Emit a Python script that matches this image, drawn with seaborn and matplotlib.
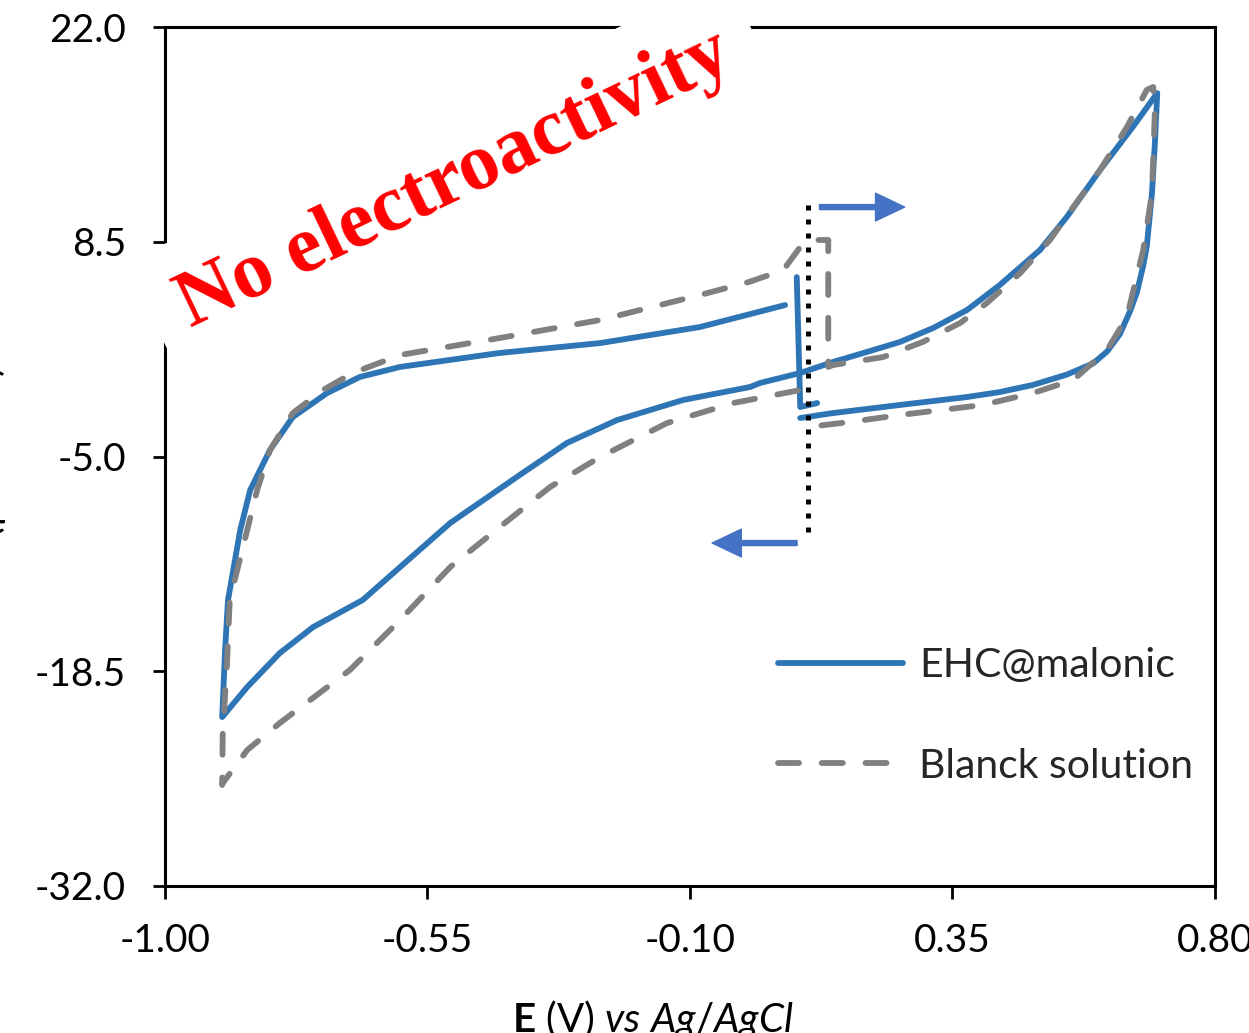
import numpy as np
import pandas as pd
import matplotlib
matplotlib.use("Agg")
import matplotlib.pyplot as plt
import seaborn as sns

# ---------------- data (E in V vs Ag/AgCl, I in uA cm-2) ----------------
# EHC@malonic : start transient
ehc_start_E = [0.083, 0.089, 0.118]
ehc_start_I = [6.28, -1.89, -1.64]

# EHC@malonic : main loop (lower-right -> vertex -> upper-right -> lower-left -> vertex -> upper-left)
ehc_lr_E = [0.089, 0.145, 0.260, 0.375, 0.431, 0.488, 0.546, 0.591, 0.615, 0.637, 0.654, 0.666, 0.677, 0.683, 0.692, 0.697, 0.701]
ehc_lr_I = [-2.58, -2.27, -1.76, -1.26, -0.95, -0.50, 0.15, 0.85, 1.60, 2.70, 4.10, 5.30, 7.00, 8.20, 11.56, 14.71, 17.85]
ehc_ur_E = [0.659, 0.603, 0.546, 0.500, 0.431, 0.375, 0.317, 0.260, 0.203, 0.145, 0.089]
ehc_ur_I = [15.71, 13.01, 10.06, 7.98, 5.78, 4.21, 3.08, 2.20, 1.57, 0.94, 0.25]
ehc_ll_E = [0.020, 0.003, -0.112, -0.225, -0.311, -0.397, -0.511, -0.597, -0.661, -0.746, -0.803, -0.859, -0.902]
ehc_ll_I = [-0.38, -0.63, -1.45, -2.71, -4.15, -6.29, -9.18, -11.95, -14.02, -15.72, -17.35, -19.49, -21.38]
ehc_ul_E = [-0.897, -0.892, -0.880, -0.871, -0.854, -0.820, -0.781, -0.722, -0.666, -0.597, -0.426, -0.254, -0.083, 0.063]
ehc_ul_I = [-17.17, -14.02, -11.51, -9.62, -7.11, -4.59, -2.52, -1.01, 0.00, 0.63, 1.51, 2.13, 3.14, 4.52]

# Blanck solution : loop (lower-left -> vertex -> upper-left -> start step -> upper-right -> vertex -> lower-right)
bl_ll_E = [0.085, -0.026, -0.139, -0.254, -0.340, -0.426, -0.511, -0.597, -0.683, -0.803, -0.859, -0.901, -0.902]
bl_ll_I = [-0.85, -1.64, -2.89, -5.03, -6.92, -9.43, -11.95, -15.28, -18.42, -21.75, -23.45, -25.53, -25.65]
bl_ul_E = [-0.901, -0.894, -0.889, -0.842, -0.820, -0.781, -0.729, -0.678, -0.597, -0.426, -0.254, -0.083, 0.001, 0.060, 0.089, 0.106, 0.137, 0.137]
bl_ul_I = [-22.38, -18.23, -14.02, -7.11, -4.59, -2.27, -0.82, 0.25, 1.38, 2.45, 3.58, 5.15, 5.97, 6.72, 8.17, 8.61, 8.61, 0.63]
bl_ur_E = [0.145, 0.231, 0.299, 0.363, 0.409, 0.466, 0.517, 0.557, 0.603, 0.649, 0.683, 0.694]
bl_ur_I = [0.75, 1.25, 2.20, 3.39, 4.65, 6.53, 8.61, 10.68, 13.01, 15.71, 18.04, 18.23]
bl_lr_E = [0.697, 0.692, 0.677, 0.649, 0.615, 0.557, 0.488, 0.402, 0.260, 0.174, 0.101]
bl_lr_I = [16.78, 11.56, 7.98, 3.77, 1.69, -0.19, -1.01, -1.76, -2.39, -2.83, -3.15]

series_names = ["EHC@malonic", "Blanck solution"]
x_ticks = [-1.00, -0.55, -0.10, 0.35, 0.80]
y_ticks = [-32.0, -18.5, -5.0, 8.5, 22.0]
start_potential = 0.102
dotted_I = [10.8, -10.3]
arrow_right = dict(E0=0.122, E1=0.268, I=10.68)
arrow_left = dict(E0=0.0835, E1=-0.062, I=-10.44)
note_text = "No electroactivity"
note_pos = (-0.503, 12.4)

# ---------------- build table ----------------
rows = []
def add(E, I, series, seg):
    for e, i in zip(E, I):
        rows.append(dict(E=e, I=i, series=series, seg=seg))

add(ehc_start_E, ehc_start_I, series_names[0], "ehc_start")
add(ehc_lr_E + ehc_ur_E + ehc_ll_E + ehc_ul_E,
    ehc_lr_I + ehc_ur_I + ehc_ll_I + ehc_ul_I, series_names[0], "ehc_loop")
add(bl_ll_E + bl_ul_E + bl_ur_E + bl_lr_E,
    bl_ll_I + bl_ul_I + bl_ur_I + bl_lr_I, series_names[1], "blank_loop")
df = pd.DataFrame(rows)

# ---------------- style ----------------
sns.set_style("ticks")
plt.rcParams["font.family"] = ["Lato", "DejaVu Sans"]
plt.rcParams["axes.unicode_minus"] = False
plt.rcParams["lines.dash_capstyle"] = "round"
plt.rcParams["lines.solid_capstyle"] = "round"
plt.rcParams["lines.solid_joinstyle"] = "round"
plt.rcParams["lines.dash_joinstyle"] = "round"
plt.rcParams["mathtext.fontset"] = "custom"
plt.rcParams["mathtext.rm"] = "Lato"
plt.rcParams["mathtext.it"] = "Lato:italic"
plt.rcParams["mathtext.bf"] = "Lato:bold"

W, H = 1249, 1033
fig = plt.figure(figsize=(W / 100, H / 100), dpi=100)
ax = fig.add_axes([165 / W, 1 - 886 / H, 1050 / W, 859 / H])

palette = {series_names[0]: "#2E75B6", series_names[1]: "#808080"}
dashes = {series_names[0]: "", series_names[1]: (3.6, 3.9)}

sns.lineplot(data=df, x="E", y="I", hue="series", style="series", units="seg",
             estimator=None, sort=False, hue_order=series_names, style_order=series_names,
             palette=palette, dashes=dashes, linewidth=4.2, ax=ax)

# dotted start-potential line
ax.plot([start_potential, start_potential], dotted_I, color="black", lw=3.6,
        dashes=(1, 1.8), dash_capstyle="butt", zorder=3)

# scan direction arrows
for a in (arrow_right, arrow_left):
    ax.annotate("", xy=(a["E1"], a["I"]), xytext=(a["E0"], a["I"]),
                arrowprops=dict(facecolor="#4472C4", edgecolor="#4472C4", width=3.6,
                                headwidth=20, headlength=21, shrink=0))

ax.set_xlim(x_ticks[0], x_ticks[-1])
ax.set_ylim(y_ticks[0], y_ticks[-1])
ax.set_xticks(x_ticks)
ax.set_xticklabels([f"{v:.2f}" for v in x_ticks])
ax.set_yticks(y_ticks)
ax.set_yticklabels([f"{v:.1f}" for v in y_ticks])
ax.tick_params(axis="both", which="major", direction="out", length=9, width=2,
               labelsize=28, colors="black")
ax.tick_params(axis="y", pad=19)
ax.tick_params(axis="x", pad=18)
for s in ax.spines.values():
    s.set_visible(True)
    s.set_linewidth(2.2)
    s.set_color("black")
ax.set_xlabel("")
ax.set_ylabel("")

# labels (partly cut off, as in the reference)
fig.text(653 / W, 1 - 998 / H, r"$\mathbf{E}$ (V) $\mathit{vs\ Ag/AgCl}$", fontsize=29,
         ha="center", va="top", color="black")
fig.text(-14 / W, 1 - 462 / H, r"I (µA cm$^{-2}$)", fontsize=29, rotation=90,
         ha="center", va="center", color="black")

# legend
handles, labels = ax.get_legend_handles_labels()
for h in handles:
    h.set_linewidth(4.2)
ax.legend(handles, labels, loc="center left", bbox_to_anchor=(0.5838, 0.198),
          frameon=False, fontsize=29.5, handlelength=3.05, handletextpad=0.4,
          labelspacing=1.55, borderpad=0, borderaxespad=0)

# annotation
ax.text(note_pos[0], note_pos[1], note_text, color="#FF0000", fontsize=58,
        family=["Liberation Serif", "DejaVu Serif"], fontweight="bold", rotation=25.5,
        rotation_mode="anchor", ha="center", va="center", clip_on=False, zorder=10,
        bbox=dict(facecolor="white", edgecolor="none", boxstyle="round,pad=0.38"))

fig.savefig("out.png", dpi=100)
